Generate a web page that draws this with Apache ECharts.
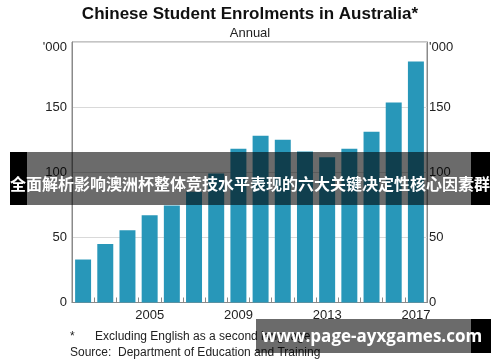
<!DOCTYPE html>
<html>
<head>
<meta charset="utf-8">
<script src="https://cdn.jsdelivr.net/npm/echarts@6/dist/echarts.min.js"></script>
<style>
html,body{margin:0;padding:0;background:#fff;}
#chart{width:500px;height:362px;}
</style>
</head>
<body>
<div id="chart"></div>
<script>
// Data
var years = ['2002','2003','2004','2005','2006','2007','2008','2009','2010','2011','2012','2013','2014','2015','2016','2017'];
var enrolments = [33, 45, 55.5, 67, 74.5, 85, 99, 118, 128, 125, 116, 111.5, 118, 131, 153.5, 185];
var shownYears = ['2005','2009','2013','2017'];
var titleText = 'Chinese Student Enrolments in Australia*';
var subtitleText = 'Annual';
var unitLabel = "'000";
var footnote1 = ['*', 'Excluding English as a second language'];
var footnote2 = ['Source:', 'Department of Education and Training'];
var bannerText = '全面解析影响澳洲杯整体竞技水平表现的六大关键决定性核心因素群';
var urlText = 'www.page-ayxgames.com';

var chart = echarts.init(document.getElementById('chart'));
var labelFont = 'Arial, "Liberation Sans", sans-serif';

function yFmt(v) {
  if (v === 200) return '{u|' + unitLabel + '}';
  return String(v);
}

var yCommon = {
  type: 'value', min: 0, max: 200, interval: 50,
  axisLine: { show: true, lineStyle: { color: '#8a8a8a', width: 1 } },
  axisTick: { show: false },
  splitLine: { show: true, lineStyle: { color: '#d9d9d9', width: 1 } },
  axisLabel: {
    color: '#222', fontSize: 13, fontFamily: labelFont,
    formatter: yFmt,
    rich: { u: { fontSize: 13, fontFamily: labelFont, color: '#222', padding: [10, 0, 0, 0] } }
  }
};

var option = {
  animation: false,
  backgroundColor: '#ffffff',
  title: [
    { text: titleText, left: 'center', top: 1,
      textStyle: { fontSize: 17, fontWeight: 'bold', color: '#111', fontFamily: labelFont } },
    { text: subtitleText, left: 'center', top: 22,
      textStyle: { fontSize: 13, fontWeight: 'normal', color: '#222', fontFamily: labelFont } }
  ],
  grid: { left: 72, top: 42, width: 355, height: 260.5, show: true, borderColor: '#8a8a8a', borderWidth: 1, backgroundColor: 'transparent' },
  xAxis: {
    type: 'category', data: years,
    axisLine: { show: true, lineStyle: { color: '#8a8a8a', width: 1 } },
    axisTick: { show: true, inside: true, length: 5, interval: 0, lineStyle: { color: '#8a8a8a' } },
    axisLabel: {
      interval: 0, color: '#222', fontSize: 13, fontFamily: labelFont, margin: 6,
      formatter: function (v) { return shownYears.indexOf(v) >= 0 ? v : ''; }
    }
  },
  yAxis: [
    Object.assign({}, yCommon, { position: 'left', axisLabel: Object.assign({}, yCommon.axisLabel, { margin: 5 }) }),
    Object.assign({}, yCommon, { position: 'right', splitLine: { show: false }, axisLabel: Object.assign({}, yCommon.axisLabel, { margin: 2 }) })
  ],
  series: [{
    type: 'bar', data: enrolments, yAxisIndex: 0,
    barCategoryGap: '28%',
    itemStyle: { color: '#2897b9' }
  }],
  graphic: [
    { type: 'text', left: 70, top: 331, style: { text: footnote1[0], fontSize: 12, fontFamily: labelFont, fill: '#222' } },
    { type: 'text', left: 95, top: 331, style: { text: footnote1[1], fontSize: 12, fontFamily: labelFont, fill: '#222' } },
    { type: 'text', left: 70, top: 347, style: { text: footnote2[0], fontSize: 12, fontFamily: labelFont, fill: '#222' } },
    { type: 'text', left: 118, top: 347, style: { text: footnote2[1], fontSize: 12, fontFamily: labelFont, fill: '#222' } },
    // banner overlay
    { type: 'rect', shape: { x: 27, y: 152, width: 444, height: 53 }, style: { fill: 'rgba(0,0,0,0.58)' }, z: 100 },
    { type: 'rect', shape: { x: 10, y: 152, width: 17, height: 53 }, style: { fill: '#000' }, z: 100 },
    { type: 'rect', shape: { x: 471, y: 152, width: 19, height: 53 }, style: { fill: '#000' }, z: 100 },
    { type: 'text', x: 250, y: 184, z: 101, style: { text: bannerText, fill: '#fff', fontSize: 16, fontWeight: 'bold', fontFamily: '"Noto Sans CJK SC", sans-serif', align: 'center', verticalAlign: 'middle' } },
    // url overlay
    { type: 'rect', shape: { x: 256, y: 319, width: 215, height: 34 }, style: { fill: 'rgba(0,0,0,0.58)' }, z: 100 },
    { type: 'rect', shape: { x: 471, y: 319, width: 20, height: 34 }, style: { fill: '#000' }, z: 100 },
    { type: 'text', x: 372, y: 337, z: 101, style: { text: urlText, fill: '#fff', fontSize: 17, fontWeight: 'bold', fontFamily: '"Open Sans", "Noto Sans", sans-serif', align: 'center', verticalAlign: 'middle' } }
  ]
};
chart.setOption(option);
</script>
</body>
</html>
